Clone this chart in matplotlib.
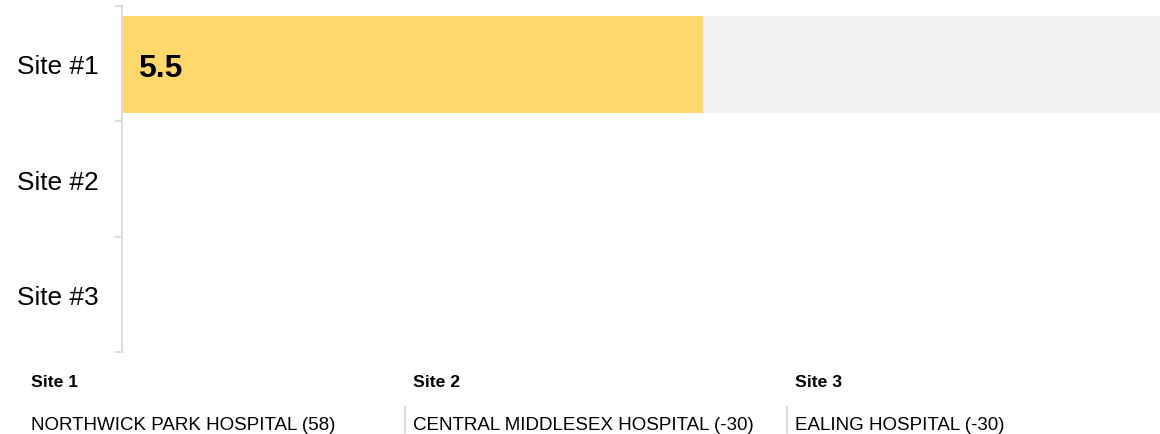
import numpy as np
import matplotlib.pyplot as plt

plt.rcParams['font.family'] = ['Liberation Sans', 'DejaVu Sans']

# scores per site (only the first site has a score)
sites = ["Site #1", "Site #2", "Site #3"]
scores = [5.5, None, None]
score_max = 10

# footer: site number, hospital name and its count
site_heads = ["Site 1", "Site 2", "Site 3"]
hospitals = ["NORTHWICK PARK HOSPITAL", "CENTRAL MIDDLESEX HOSPITAL", "EALING HOSPITAL"]
counts = [58, -30, -30]

W, H = 1160, 435
fig = plt.figure(figsize=(W / 100, H / 100), dpi=100)

# axes spans from the left spine past the right edge so 10 lands just off-canvas
ax_left, ax_right = 122, 1178
ax_top, ax_bot = 7, 353
ax = fig.add_axes([ax_left / W, 1 - ax_bot / H, (ax_right - ax_left) / W, (ax_bot - ax_top) / H])

y = np.arange(len(sites))
for i, v in enumerate(scores):
    if v is None:
        continue
    ax.barh(i + 0.01, score_max, height=0.84, color="#f1f1f1", zorder=1)
    ax.barh(i + 0.01, v, height=0.84, color="#ffd86b", zorder=2)
    ax.text(0.15, i + 0.04, f"{v}", fontsize=23, fontweight="bold", va="center", ha="left", zorder=3)

ax.set_xlim(0, score_max)
ax.set_ylim(len(sites) - 0.5, -0.5)

for s in ["top", "right", "bottom"]:
    ax.spines[s].set_visible(False)
ax.spines["left"].set_color("#dcdcdc")
ax.spines["left"].set_linewidth(1.5)

ax.set_xticks([])
ax.set_yticks(np.arange(-0.5, len(sites), 1.0))
ax.set_yticklabels([])
ax.tick_params(axis="y", which="major", length=5, width=1.5, color="#dcdcdc")
ax.set_yticks(y, minor=True)
ax.set_yticklabels(sites, minor=True, fontsize=18.9)
ax.tick_params(axis="y", which="minor", length=0, pad=17)

# footer columns
col_x = [31, 413, 795]
for i, x in enumerate(col_x):
    fig.text(x / W, 1 - 383 / H, site_heads[i], fontsize=12.6, fontweight="bold", va="center", ha="left")
    fig.text(x / W, 1 - 426 / H, f"{hospitals[i]} ({counts[i]})", fontsize=13.5, va="center", ha="left")
    if i > 0:
        fig.add_artist(plt.Line2D([(x - 8) / W] * 2, [1 - 408 / H, 1 - 434 / H], color="#d6d6d6", lw=1.2))

fig.savefig("out.png", dpi=100)
